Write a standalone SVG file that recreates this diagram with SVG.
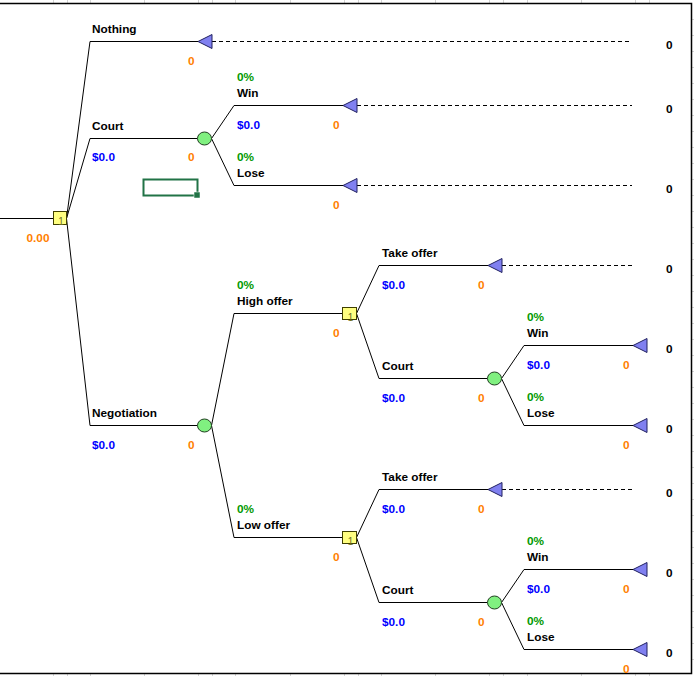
<svg xmlns="http://www.w3.org/2000/svg" width="694" height="676" viewBox="0 0 694 676">
<style>
text{font-family:"Liberation Sans",Arial,sans-serif;font-size:11.8px;font-weight:bold}
.lbl{fill:#000}
.p{fill:#009900}
.v{fill:#0000ff}
.o{fill:#ff8000;text-anchor:end}
.pay{fill:#000}
.ln{fill:none;stroke:#000;stroke-width:1}
.dash{fill:none;stroke:#000;stroke-width:1;stroke-dasharray:4,3}
.tri{fill:#8080f0;stroke:#202060;stroke-width:1}
.chance{fill:#80f080;stroke:#204020;stroke-width:1}
.dec{fill:#ffff80;stroke:#404000;stroke-width:1}
.num{font-size:10px;font-weight:normal;fill:#6e6e1e;text-anchor:middle}
.grid{stroke:#d4d4d4;stroke-width:1}
</style>
<rect x="0" y="0" width="694" height="676" fill="#fff"/>
<g id="gridticks" class="grid">
<path d="M53.5 0V3M67.5 0V3M90.5 0V3M144.5 0V3M198.5 0V3M212.5 0V3M235.5 0V3M290.5 0V3M344.5 0V3M358.5 0V3M381.5 0V3M435.5 0V3M489.5 0V3M503.5 0V3M527.5 0V3M581.5 0V3M635.5 0V3M649.5 0V3"/>
<path d="M53.5 674V676M67.5 674V676M90.5 674V676M144.5 674V676M198.5 674V676M212.5 674V676M235.5 674V676M290.5 674V676M344.5 674V676M358.5 674V676M381.5 674V676M435.5 674V676M489.5 674V676M503.5 674V676M527.5 674V676M581.5 674V676M635.5 674V676M649.5 674V676"/>
<path d="M692 19.5H694M692 35.5H694M692 51.5H694M692 67.5H694M692 83.5H694M692 99.5H694M692 115.5H694M692 131.5H694M692 147.5H694M692 163.5H694M692 179.5H694M692 195.5H694M692 211.5H694M692 227.5H694M692 243.5H694M692 259.5H694M692 275.5H694M692 291.5H694M692 307.5H694M692 323.5H694M692 339.5H694M692 355.5H694M692 371.5H694M692 387.5H694M692 403.5H694M692 419.5H694M692 435.5H694M692 451.5H694M692 467.5H694M692 483.5H694M692 499.5H694M692 515.5H694M692 531.5H694M692 547.5H694M692 563.5H694M692 579.5H694M692 595.5H694M692 611.5H694M692 627.5H694M692 643.5H694M692 659.5H694"/>
</g>
<g id="border">
<path d="M0 3.5H691.5V673.5H0" fill="none" stroke="#000" stroke-width="1.5"/>
</g>
<g id="connectors">
<path class="ln" d="M0 218.5H53.5"/>
<path class="ln" d="M66.5 218.5L90 41.5H198"/>
<path class="ln" d="M66.5 218.5L90 138.5H197.5"/>
<path class="ln" d="M66.5 218.5L90 425.5H197.5"/>
<path class="ln" d="M211.5 138.5L234 105.5H343"/>
<path class="ln" d="M211.5 138.5L234 185.5H343"/>
<path class="ln" d="M211.5 425.5L234 313.5H342.5"/>
<path class="ln" d="M211.5 425.5L234 537.5H342.5"/>
<path class="ln" d="M356.5 313.5L379 265.5H488"/>
<path class="ln" d="M356.5 313.5L379 378.5H487.5"/>
<path class="ln" d="M501.5 378.5L524 345.5H633"/>
<path class="ln" d="M501.5 378.5L524 425.5H633"/>
<path class="ln" d="M356.5 537.5L379 489.5H488"/>
<path class="ln" d="M356.5 537.5L379 602.5H487.5"/>
<path class="ln" d="M501.5 602.5L524 569.5H633"/>
<path class="ln" d="M501.5 602.5L524 649.5H633"/>
<path class="dash" d="M212 41.5H632M357 105.5H632M357 185.5H632M502 265.5H632M502 489.5H632"/>
</g>
<g id="root">
<rect class="dec" x="53.5" y="211.5" width="13" height="13"/>
<text class="num" x="61" y="225">1</text>
<text class="o" x="49.5" y="241.5">0.00</text>
</g>
<g id="nothing">
<text class="lbl" x="92" y="33">Nothing</text>
<polygon class="tri" points="198,41.5 212,34.5 212,48.5"/>
<text class="o" x="194.5" y="64.5">0</text>
<text class="pay" x="666" y="49">0</text>
</g>
<g id="court">
<text class="lbl" x="92" y="130">Court</text>
<text class="v" x="92" y="161">$0.0</text>
<ellipse class="chance" cx="204.5" cy="138.5" rx="7" ry="6.5"/>
<text class="o" x="194.5" y="161">0</text>
</g>
<g id="court-win">
<text class="p" x="237" y="81">0%</text>
<text class="lbl" x="237" y="97">Win</text>
<text class="v" x="237" y="129">$0.0</text>
<polygon class="tri" points="343,105.5 357,98.5 357,112.5"/>
<text class="o" x="339.5" y="129">0</text>
<text class="pay" x="666" y="113">0</text>
</g>
<g id="court-lose">
<text class="p" x="237" y="161">0%</text>
<text class="lbl" x="237" y="177">Lose</text>
<polygon class="tri" points="343,185.5 357,178.5 357,192.5"/>
<text class="o" x="339.5" y="209">0</text>
<text class="pay" x="666" y="193">0</text>
</g>
<g id="selection">
<rect x="143.5" y="179.5" width="54" height="16" fill="none" stroke="#217346" stroke-width="2"/>
<rect x="194" y="192" width="6" height="6" fill="#217346" stroke="#fff" stroke-width="0.5"/>
</g>
<g id="negotiation">
<text class="lbl" x="92" y="417">Negotiation</text>
<text class="v" x="92" y="449">$0.0</text>
<ellipse class="chance" cx="204.5" cy="425.5" rx="7" ry="6.5"/>
<text class="o" x="194.5" y="449">0</text>
</g>
<g id="high-offer">
<text class="p" x="237" y="289">0%</text>
<text class="lbl" x="237" y="305">High offer</text>
<rect class="dec" x="342.5" y="307.5" width="14" height="12"/>
<text class="num" x="350.5" y="321">1</text>
<text class="o" x="339.5" y="337">0</text>
</g>
<g id="high-take">
<text class="lbl" x="382" y="257">Take offer</text>
<text class="v" x="382" y="289">$0.0</text>
<polygon class="tri" points="488,265.5 502,258.5 502,272.5"/>
<text class="o" x="484.5" y="289">0</text>
<text class="pay" x="666" y="273">0</text>
</g>
<g id="high-court">
<text class="lbl" x="382" y="370">Court</text>
<text class="v" x="382" y="402">$0.0</text>
<ellipse class="chance" cx="494.5" cy="378.5" rx="7" ry="6.5"/>
<text class="o" x="484.5" y="402">0</text>
</g>
<g id="high-court-win">
<text class="p" x="527" y="321">0%</text>
<text class="lbl" x="527" y="337">Win</text>
<text class="v" x="527" y="369">$0.0</text>
<polygon class="tri" points="633,345.5 647,338.5 647,352.5"/>
<text class="o" x="629.5" y="369">0</text>
<text class="pay" x="666" y="353">0</text>
</g>
<g id="high-court-lose">
<text class="p" x="527" y="401">0%</text>
<text class="lbl" x="527" y="417">Lose</text>
<polygon class="tri" points="633,425.5 647,418.5 647,432.5"/>
<text class="o" x="629.5" y="449">0</text>
<text class="pay" x="666" y="433">0</text>
</g>
<g id="low-offer">
<text class="p" x="237" y="513">0%</text>
<text class="lbl" x="237" y="529">Low offer</text>
<rect class="dec" x="342.5" y="531.5" width="14" height="12"/>
<text class="num" x="350.5" y="545">1</text>
<text class="o" x="339.5" y="561">0</text>
</g>
<g id="low-take">
<text class="lbl" x="382" y="481">Take offer</text>
<text class="v" x="382" y="513">$0.0</text>
<polygon class="tri" points="488,489.5 502,482.5 502,496.5"/>
<text class="o" x="484.5" y="513">0</text>
<text class="pay" x="666" y="497">0</text>
</g>
<g id="low-court">
<text class="lbl" x="382" y="594">Court</text>
<text class="v" x="382" y="626">$0.0</text>
<ellipse class="chance" cx="494.5" cy="602.5" rx="7" ry="6.5"/>
<text class="o" x="484.5" y="626">0</text>
</g>
<g id="low-court-win">
<text class="p" x="527" y="545">0%</text>
<text class="lbl" x="527" y="561">Win</text>
<text class="v" x="527" y="593">$0.0</text>
<polygon class="tri" points="633,569.5 647,562.5 647,576.5"/>
<text class="o" x="629.5" y="593">0</text>
<text class="pay" x="666" y="577">0</text>
</g>
<g id="low-court-lose">
<text class="p" x="527" y="625">0%</text>
<text class="lbl" x="527" y="641">Lose</text>
<polygon class="tri" points="633,649.5 647,642.5 647,656.5"/>
<text class="o" x="629.5" y="673">0</text>
<text class="pay" x="666" y="657">0</text>
</g>
</svg>
